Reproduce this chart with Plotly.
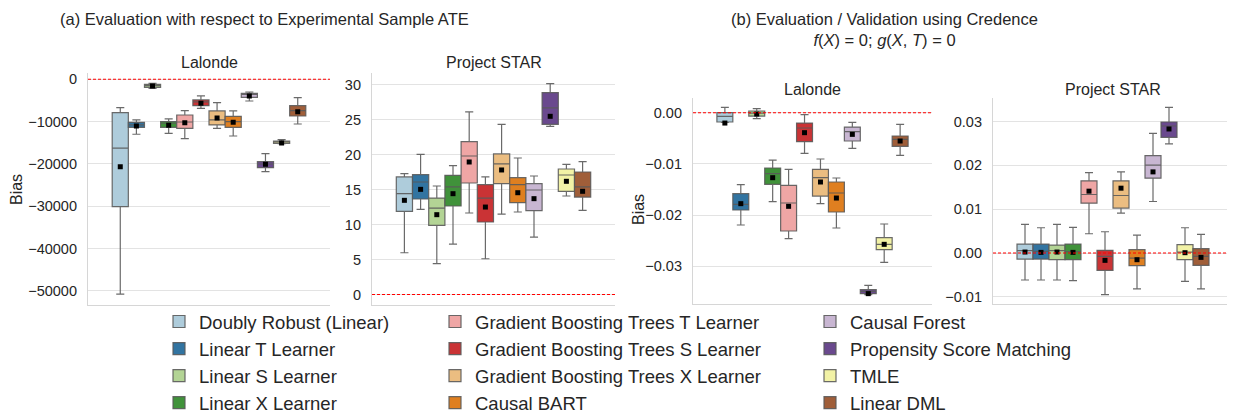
import colorsys
import plotly.graph_objects as go

methods = [
    "Doubly Robust (Linear)", "Linear T Learner", "Linear S Learner", "Linear X Learner",
    "Gradient Boosting Trees T Learner", "Gradient Boosting Trees S Learner",
    "Gradient Boosting Trees X Learner", "Causal BART", "Causal Forest",
    "Propensity Score Matching", "TMLE", "Linear DML",
]
palette = ["#a6cee3", "#1f78b4", "#b2df8a", "#33a02c", "#fb9a99", "#e31a1c",
           "#fdbf6f", "#ff7f00", "#cab2d6", "#6a3d9a", "#ffff99", "#b15928"]

# (a) Lalonde
lal_a_upper = [-6700, -9620, -950, -9380, -7410, -3940, -5520, -7490, -3000, -17590, -14270, -4340]
lal_a_q3 = [-7890, -10170, -1180, -10000, -8440, -4890, -7490, -8750, -3310, -19480, -14590, -6230]
lal_a_median = [-16300, -10800, -1500, -10400, -10100, -5360, -9620, -10020, -3550, -20030, -14830, -7410]
lal_a_q1 = [-30100, -11360, -1890, -11360, -11590, -6230, -10800, -11360, -4260, -20900, -15140, -8680]
lal_a_lower = [-50800, -13000, -2130, -12780, -14040, -6860, -11590, -13410, -5130, -21850, -15220, -10570]
lal_a_mean = [-20660, -11040, -1580, -10880, -10250, -5680, -9150, -10170, -3940, -20110, -15060, -7650]

# (a) Project STAR
star_a_upper = [17.26, 20.03, 15.50, 18.41, 26.09, 16.79, 24.32, 19.50, 16.93, 30.14, 18.60, 18.98]
star_a_q3 = [16.79, 17.12, 13.78, 17.02, 21.84, 15.69, 20.08, 16.69, 15.83, 28.85, 17.93, 17.50]
star_a_median = [14.40, 16.07, 12.35, 15.36, 19.79, 13.78, 18.65, 15.69, 14.93, 26.66, 17.07, 15.36]
star_a_q1 = [11.87, 13.64, 9.87, 12.64, 15.93, 10.35, 15.83, 13.11, 11.97, 24.32, 14.74, 13.92]
star_a_lower = [5.96, 12.16, 4.39, 7.20, 11.64, 5.10, 11.49, 11.78, 8.20, 24.03, 14.07, 12.02]
star_a_mean = [13.45, 15.02, 11.40, 14.40, 18.93, 12.49, 17.79, 14.54, 13.69, 25.46, 16.17, 14.74]

# (b) Lalonde
lal_b_upper = [0.00104, -0.01405, 0.00078, -0.00924, -0.01106, -0.00039, -0.00904, -0.01275, -0.00189, -0.0337, -0.02173, -0.00228]
lal_b_q3 = [0.0, -0.01581, 0.00033, -0.0108, -0.01418, -0.00202, -0.01106, -0.01353, -0.0028, -0.03455, -0.0244, -0.00455]
lal_b_median = [-0.00072, -0.01789, -0.00007, -0.01191, -0.01763, -0.00299, -0.01269, -0.01568, -0.00371, -0.03487, -0.0257, -0.0052]
lal_b_q1 = [-0.00182, -0.0190, -0.00065, -0.01399, -0.0231, -0.00566, -0.01627, -0.01939, -0.00553, -0.03533, -0.02674, -0.00657]
lal_b_lower = [-0.0019, -0.02193, -0.00117, -0.01737, -0.02459, -0.00794, -0.01776, -0.02251, -0.00696, -0.03552, -0.02921, -0.00833]
lal_b_mean = [-0.00202, -0.01776, -0.00026, -0.01269, -0.01828, -0.0039, -0.01353, -0.01666, -0.00423, -0.03533, -0.0257, -0.00553]

# (b) Project STAR
star_b_upper = [0.00653, 0.00577, 0.00653, 0.00584, 0.01837, 0.00486, 0.01852, 0.0041, 0.02732, 0.03324, 0.00577, 0.00425]
star_b_q3 = [0.00205, 0.00205, 0.00182, 0.00205, 0.01647, 0.00061, 0.01647, 0.00076, 0.02224, 0.0299, 0.0019, 0.00099]
star_b_median = [0.00053, 0.00038, 0.00053, 0.0003, 0.01336, -0.00076, 0.01313, -0.00114, 0.02004, 0.02899, 0.00023, -0.00076]
star_b_q1 = [-0.00137, -0.00137, -0.00152, -0.00152, 0.01139, -0.00395, 0.01025, -0.00288, 0.01708, 0.02641, -0.00152, -0.00281]
star_b_lower = [-0.00615, -0.00615, -0.00615, -0.0063, 0.0044, -0.00949, 0.00911, -0.0082, 0.01176, 0.0249, -0.00645, -0.0082]
star_b_mean = [0.00023, 0.00015, 0.00023, 0.00015, 0.01412, -0.00167, 0.0148, -0.00152, 0.01852, 0.02831, 0.00008, -0.00099]

titles_a = "(a) Evaluation with respect to Experimental Sample ATE"
titles_b = "(b) Evaluation / Validation using Credence<br><i>f</i>(<i>X</i>) = 0; <i>g</i>(<i>X</i>, <i>T</i>) = 0"
y_label = "Bias"

FONT = "Liberation Sans, Arial, sans-serif"
TXT = "#262626"


def desat(hexc, prop=0.75):
    r, g, b = (int(hexc[i:i + 2], 16) / 255 for i in (1, 3, 5))
    h, l, s = colorsys.rgb_to_hls(r, g, b)
    r, g, b = colorsys.hls_to_rgb(h, l, s * prop)
    return "rgb(%d,%d,%d)" % (round(r * 255), round(g * 255), round(b * 255))


colors = [desat(c) for c in palette]

panels = [
    dict(up=lal_a_upper, q3=lal_a_q3, med=lal_a_median, q1=lal_a_q1, lo=lal_a_lower, mean=lal_a_mean,
         xd=[88, 330], yd=[72.7, 305], rng=[-53380, 1560], tick0=-50000, dtick=10000, fmt="d",
         title="Lalonde", title_y=63, ylabel_pos=(16, 190)),
    dict(up=star_a_upper, q3=star_a_q3, med=star_a_median, q1=star_a_q1, lo=star_a_lower, mean=star_a_mean,
         xd=[372, 615], yd=[73, 305], rng=[-1.51, 31.65], tick0=0, dtick=5, fmt="d",
         title="Project STAR", title_y=63, ylabel_pos=None),
    dict(up=lal_b_upper, q3=lal_b_q3, med=lal_b_median, q1=lal_b_q1, lo=lal_b_lower, mean=lal_b_mean,
         xd=[693, 932], yd=[98, 304], rng=[-0.03735, 0.00287], tick0=0, dtick=0.01, fmt=".2f",
         title="Lalonde", title_y=89, ylabel_pos=(638, 210)),
    dict(up=star_b_upper, q3=star_b_q3, med=star_b_median, q1=star_b_q1, lo=star_b_lower, mean=star_b_mean,
         xd=[993, 1233], yd=[98, 304], rng=[-0.01163, 0.03538], tick0=0, dtick=0.01, fmt=".2f",
         title="Project STAR", title_y=89, ylabel_pos=None),
]

OFF = 8  # page body margin
W, H = 1235 - OFF, 415 - OFF


def fx(px):
    return (px - OFF) / W


def fy(py):
    return 1 - (py - OFF) / H


fig = go.Figure()
legend_of = ["legend"] * 4 + ["legend2"] * 4 + ["legend3"] * 4

for p_i, p in enumerate(panels):
    sfx = "" if p_i == 0 else str(p_i + 1)
    xa, ya = "x" + sfx, "y" + sfx
    for m_i, name in enumerate(methods):
        fig.add_trace(go.Box(
            x=[m_i], q1=[p["q1"][m_i]], median=[p["med"][m_i]], q3=[p["q3"][m_i]],
            lowerfence=[p["lo"][m_i]], upperfence=[p["up"][m_i]],
            name=name, legendgroup=name, showlegend=(p_i == 0), legend=legend_of[m_i],
            fillcolor=colors[m_i], line=dict(color="rgba(90,90,90,0.9)", width=1.2),
            width=1.0, whiskerwidth=0.5, boxpoints=False,
            xaxis=xa, yaxis=ya, hoverinfo="skip",
        ))
    fig.add_trace(go.Scatter(
        x=list(range(len(methods))), y=p["mean"], mode="markers",
        marker=dict(symbol="square", size=5, color="black"),
        showlegend=False, xaxis=xa, yaxis=ya, hoverinfo="skip",
    ))
    xaxis = dict(domain=[fx(p["xd"][0]), fx(p["xd"][1])], range=[-2, 13], anchor=ya,
                 showticklabels=False, showgrid=False, zeroline=False, ticks="",
                 showline=True, linecolor="#d6d6d6", linewidth=1.2, automargin=False)
    yaxis = dict(domain=[fy(p["yd"][1]), fy(p["yd"][0])], range=p["rng"], anchor=xa,
                 tick0=p["tick0"], dtick=p["dtick"], tickformat=p["fmt"],
                 showgrid=True, gridcolor="#e3e3e3", gridwidth=1, zeroline=False,
                 ticks="", ticklen=0, ticklabelstandoff=7,
                 showline=True, linecolor="#d6d6d6", linewidth=1.2, automargin=False,
                 tickfont=dict(size=14.5, color=TXT, family=FONT))
    fig.layout["xaxis" + sfx] = xaxis
    fig.layout["yaxis" + sfx] = yaxis
    fig.add_shape(type="line", xref=xa + " domain", yref=ya, x0=0, x1=1, y0=0, y1=0,
                  line=dict(color="red", width=1.1, dash="3px,2px"), layer="above")
    fig.add_annotation(text=p["title"], xref=xa + " domain", yref="paper", x=0.5, y=fy(p["title_y"]),
                       yanchor="middle", showarrow=False,
                       font=dict(size=16, color=TXT, family=FONT))
    if p["ylabel_pos"]:
        lx, ly = p["ylabel_pos"]
        fig.add_annotation(text=y_label, xref="paper", yref="paper", x=fx(lx), y=fy(ly),
                           xanchor="center", yanchor="middle", textangle=-90, showarrow=False,
                           font=dict(size=16, color=TXT, family=FONT))

fig.add_annotation(text=titles_a, xref="paper", yref="paper", x=fx(264), y=fy(8),
                   xanchor="center", yanchor="top", showarrow=False,
                   font=dict(size=16.5, color=TXT, family=FONT))
fig.add_annotation(text=titles_b, xref="paper", yref="paper", x=fx(884), y=fy(8),
                   xanchor="center", yanchor="top", showarrow=False,
                   font=dict(size=16.5, color=TXT, family=FONT))

leg_common = dict(orientation="v", xref="paper", yref="paper", xanchor="left", yanchor="top",
                  y=fy(303), bgcolor="rgba(0,0,0,0)", tracegroupgap=0,
                  font=dict(size=18.5, color=TXT, family=FONT))
fig.update_layout(
    width=W, height=H, margin=dict(l=0, r=0, t=0, b=0, autoexpand=False),
    paper_bgcolor="white", plot_bgcolor="white",
    font=dict(family=FONT, color=TXT),
    legend=dict(x=fx(159), **leg_common),
    legend2=dict(x=fx(435), **leg_common),
    legend3=dict(x=fx(810), **leg_common),
)

fig.write_html("out.html")
